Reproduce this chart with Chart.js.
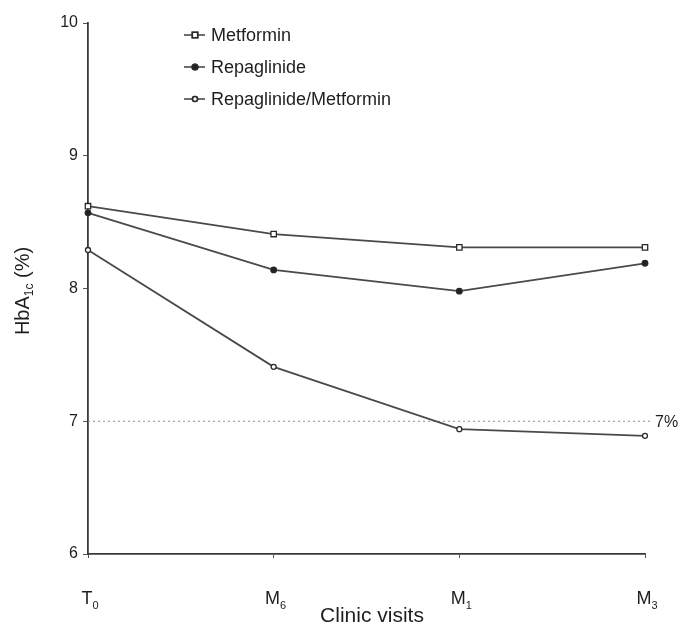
<!DOCTYPE html>
<html>
<head>
<meta charset="utf-8">
<script src="https://cdn.jsdelivr.net/npm/chart.js@4"></script>
<style>
    html, body { margin: 0; padding: 0; background: #fff; }
    #wrap { width: 681px; height: 628px; position: relative; }
</style>
</head>
<body>
<div id="wrap"><canvas id="chart"></canvas></div>
<script>
// Clinic visits on the x axis (letter + subscript drawn below)
var visits = ["T0", "M6", "M1", "M3"];
var visit_letters = ["T", "M", "M", "M"];
var visit_subs = ["0", "6", "1", "3"];

// HbA1c (%)
var metformin = [8.62, 8.41, 8.31, 8.31];
var repaglinide = [8.57, 8.14, 7.98, 8.19];
var combination = [8.29, 7.41, 6.94, 6.89];

var series_names = ["Metformin", "Repaglinide", "Repaglinide/Metformin"];
var y_ticks = [6, 7, 8, 9, 10];
var target_value = 7;
var target_label = "7%";

var font_family = "'Liberation Sans', Arial, sans-serif";
var ink = "#1e1e1e";
var line_color = "#4a4a4a";

// Draws the axis labels with subscripts, the 7% line and the legend
var extras_plugin = {
    id: "extras",
    beforeDatasetsDraw: function (chart) {
        var ctx = chart.ctx;
        var y_scale = chart.scales.y;
        var area = chart.chartArea;
        var y = y_scale.getPixelForValue(target_value);

        ctx.save();
        ctx.strokeStyle = "#8a8a8a";
        ctx.lineWidth = 1.2;
        ctx.setLineDash([2, 3]);
        ctx.beginPath();
        ctx.moveTo(area.left, y);
        ctx.lineTo(area.right + 7, y);
        ctx.stroke();
        ctx.restore();
    },
    afterDraw: function (chart) {
        var ctx = chart.ctx;
        var x_scale = chart.scales.x;
        var y_scale = chart.scales.y;
        var area = chart.chartArea;

        ctx.save();
        ctx.fillStyle = ink;
        ctx.textBaseline = "alphabetic";

        // 7% label
        ctx.font = "16px " + font_family;
        ctx.textAlign = "left";
        ctx.fillText(target_label, area.right + 10, y_scale.getPixelForValue(target_value) + 6);

        // x tick labels with subscripts
        for (var i = 0; i < visits.length; i++) {
            var x = x_scale.getPixelForValue(i);
            ctx.font = "18px " + font_family;
            var w = ctx.measureText(visit_letters[i]).width;
            ctx.font = "11px " + font_family;
            var sw = ctx.measureText(visit_subs[i]).width;
            var start = x - (w + sw) / 2 + 2;
            ctx.font = "18px " + font_family;
            ctx.fillText(visit_letters[i], start, 604);
            ctx.font = "11px " + font_family;
            ctx.fillText(visit_subs[i], start + w, 609);
        }

        // x title
        ctx.font = "21px " + font_family;
        ctx.textAlign = "center";
        ctx.fillText("Clinic visits", 372, 622);

        // y title, rotated
        ctx.translate(29, 291);
        ctx.rotate(-Math.PI / 2);
        ctx.textAlign = "left";
        var parts = [["HbA", 20, 0], ["1c", 12, 4], [" (%)", 20, 0]];
        var total = 0;
        for (var p = 0; p < parts.length; p++) {
            ctx.font = parts[p][1] + "px " + font_family;
            total += ctx.measureText(parts[p][0]).width;
        }
        var cx = -total / 2;
        for (var q = 0; q < parts.length; q++) {
            ctx.font = parts[q][1] + "px " + font_family;
            ctx.fillText(parts[q][0], cx, parts[q][2]);
            cx += ctx.measureText(parts[q][0]).width;
        }
        ctx.restore();

        // legend
        ctx.save();
        var sets = chart.data.datasets;
        for (var k = 0; k < sets.length; k++) {
            var ly = 35 + k * 32;
            ctx.strokeStyle = line_color;
            ctx.lineWidth = 1.6;
            ctx.beginPath();
            ctx.moveTo(184, ly);
            ctx.lineTo(205, ly);
            ctx.stroke();
            Chart.helpers.drawPoint(ctx, {
                pointStyle: sets[k].pointStyle,
                radius: sets[k].pointRadius,
                rotation: 0,
                borderWidth: sets[k].pointBorderWidth
            }, 195, ly);
            ctx.fillStyle = sets[k].pointBackgroundColor;
            ctx.strokeStyle = sets[k].pointBorderColor;
            ctx.fill();
            ctx.stroke();
            ctx.fillStyle = ink;
            ctx.font = "18px " + font_family;
            ctx.textAlign = "left";
            ctx.fillText(sets[k].label, 211, ly + 6);
        }
        ctx.restore();
    }
};

function make_set(label, values, style, radius, fill) {
    return {
        label: label,
        data: values,
        borderColor: line_color,
        borderWidth: 1.8,
        pointStyle: style,
        pointRadius: radius,
        pointBorderWidth: 1.3,
        pointBorderColor: "#2a2a2a",
        pointBackgroundColor: fill,
        tension: 0,
        fill: false
    };
}

new Chart(document.getElementById("chart"), {
    type: "line",
    data: {
        labels: visits,
        datasets: [
            make_set(series_names[0], metformin, "rect", 3.8, "#fff"),
            make_set(series_names[1], repaglinide, "circle", 2.8, "#222"),
            make_set(series_names[2], combination, "circle", 2.5, "#fff")
        ]
    },
    options: {
        responsive: true,
        maintainAspectRatio: false,
        animation: false,
        layout: {
            padding: {left: 0, right: 36, top: 23, bottom: 0}
        },
        plugins: {
            legend: {display: false},
            tooltip: {enabled: false},
            title: {display: false}
        },
        scales: {
            x: {
                type: "category",
                offset: false,
                afterFit: function (scale) { scale.height = 74; },
                grid: {
                    drawOnChartArea: false,
                    drawTicks: true,
                    tickLength: 4,
                    color: "#555"
                },
                border: {color: "#3a3a3a", width: 1.8},
                ticks: {
                    color: "rgba(0,0,0,0)",
                    font: {size: 12}
                }
            },
            y: {
                min: 6,
                max: 10,
                afterFit: function (scale) { scale.width = 88; },
                afterBuildTicks: function (scale) {
                    scale.ticks = y_ticks.map(function (v) { return {value: v}; });
                },
                grid: {
                    drawOnChartArea: false,
                    drawTicks: true,
                    tickLength: 5,
                    color: "#555"
                },
                border: {color: "#3a3a3a", width: 1.8},
                ticks: {
                    color: ink,
                    padding: 5,
                    font: {family: font_family, size: 16}
                }
            }
        }
    },
    plugins: [extras_plugin]
});
</script>
</body>
</html>
